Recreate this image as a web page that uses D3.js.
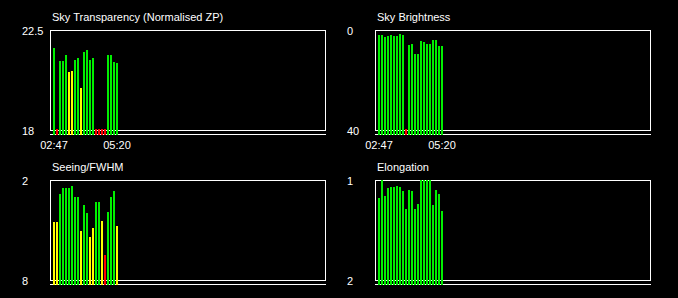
<!DOCTYPE html>
<html lang="en">
<head>
  <meta charset="UTF-8">
  <title>Sky quality</title>
  <style>
    body { margin: 0; background: #000; }
    svg { display: block; background: #000; }
    text {
      font: 11px "Liberation Sans", Arial, sans-serif;
      fill: #fff;
    }
    .frame, .base {
      fill: none;
      stroke: #fff;
      stroke-width: 1px;
      shape-rendering: crispEdges;
    }
    .bar { shape-rendering: crispEdges; }
  </style>
</head>
<body>
  <svg width="678" height="298"></svg>

  <script src="https://d3js.org/d3.v7.min.js"></script>
  <script>
    // observation times (one bar per exposure)
    const times = ["02:47", "02:54", "03:01", "03:09", "03:16", "03:23", "03:31", "03:38",
                   "03:45", "03:53", "04:00", "04:07", "04:14", "04:22", "04:29", "04:36",
                   "04:44", "04:51", "04:58", "05:05", "05:13", "05:20"];
    const timeRange = ["02:37", "13:45"];
    const timeTicks = ["02:47", "05:20"];

    const transparency = [21.69, 17.5, 21.1, 21.1, 21.38, 20.61, 20.66, 21.15, 21.24, 19.89, 21.51,
                          21.6, 21.15, 21.24, 17.5, 17.5, 17.5, 17.5, 21.38, 21.38, 21.06, 21.02];
    const brightness = [1.9, 1.9, 2.7, 2.3, 1.9, 2.3, 2.3, 1.5, 1.9, 42, 5.9,
                        5.5, 9.5, 9.5, 4.3, 4.7, 5.5, 5.5, 3.9, 3.9, 6.3, 6.3];
    const seeing = [4.52, 4.52, 2.82, 2.48, 2.48, 2.48, 2.36, 3.02, 3.02, 5.04, 3.5,
                    3.98, 5.42, 4.88, 3.32, 3.32, 4.46, 6.5, 3.92, 3.02, 2.66, 4.76];
    const elongation = [1.18, 1.0, 1.16, 1.08, 1.07, 1.07, 1.06, 1.07, 1.11, 1.29, 1.1,
                        1.11, 1.29, 1.24, 1.0, 1.0, 1.0, 1.0, 1.25, 1.1, 1.14, 1.31];

    const GREEN = "#00f000", YELLOW = "#ffff00", RED = "#ff0000";

    const panels = [
      { title: "Sky Transparency (Normalised ZP)", values: transparency, domain: [18, 22.5],
        color: d3.scaleThreshold().domain([18, 20.8]).range([RED, YELLOW, GREEN]),
        x0: 50, y0: 30, timeLabels: true },
      { title: "Sky Brightness", values: brightness, domain: [40, 0],
        color: d3.scaleThreshold().domain([40]).range([GREEN, RED]),
        x0: 375, y0: 30, timeLabels: true },
      { title: "Seeing/FWHM", values: seeing, domain: [8, 2],
        color: d3.scaleThreshold().domain([4.2, 6]).range([GREEN, YELLOW, RED]),
        x0: 50, y0: 180, timeLabels: false },
      { title: "Elongation", values: elongation, domain: [2, 1],
        color: d3.scaleThreshold().domain([2]).range([GREEN, RED]),
        x0: 375, y0: 180, timeLabels: false }
    ];

    const W = 275, H = 100;
    const svg = d3.select("svg");
    const toMin = s => { const [h, m] = s.split(":"); return +h * 60 + +m; };

    panels.forEach(p => {
      const g = svg.append("g");

      const x = d3.scaleLinear()
        .domain(timeRange.map(toMin))
        .range([p.x0, p.x0 + W]);
      const y = d3.scaleLinear()
        .domain(p.domain)
        .range([p.y0 + H, p.y0])
        .clamp(true);

      g.append("text")
        .attr("x", p.x0 + 2)
        .attr("y", p.y0 - 9)
        .text(p.title);

      // end labels of the value axis
      g.selectAll(".ylab")
        .data(p.domain)
        .join("text")
        .attr("x", p.x0 - 28)
        .attr("y", d => y(d) + 4.5)
        .text(d => d);

      g.append("rect")
        .attr("class", "frame")
        .attr("x", p.x0 + 0.5)
        .attr("y", p.y0 + 0.5)
        .attr("width", W)
        .attr("height", H);

      g.append("line")
        .attr("class", "base")
        .attr("x1", p.x0)
        .attr("x2", p.x0 + W + 1)
        .attr("y1", p.y0 + H + 4.5)
        .attr("y2", p.y0 + H + 4.5);

      // bars sit on top of the frame lines
      g.selectAll(".bar")
        .data(p.values)
        .join("rect")
        .attr("class", "bar")
        .attr("x", (d, i) => Math.round(x(toMin(times[i]))) - 1)
        .attr("width", 2)
        .attr("y", d => Math.min(y(d), p.y0 + H - 1))
        .attr("height", d => p.y0 + H + 5 - Math.min(y(d), p.y0 + H - 1))
        .attr("fill", d => p.color(d));

      if (p.timeLabels) {
        g.selectAll(".tlab")
          .data(timeTicks)
          .join("text")
          .attr("x", d => Math.round(x(toMin(d))))
          .attr("y", p.y0 + H + 19)
          .attr("text-anchor", "middle")
          .text(d => d);
      }
    });
  </script>
</body>
</html>
